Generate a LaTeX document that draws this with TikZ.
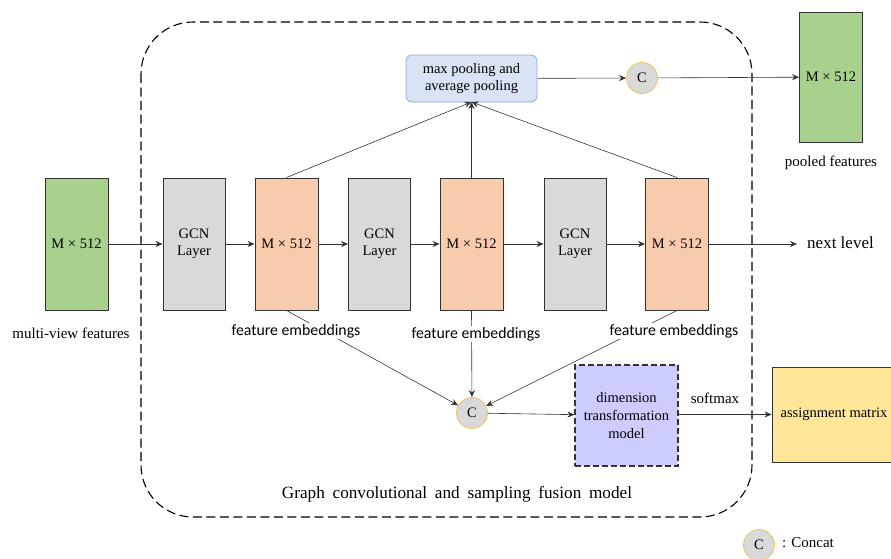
\documentclass[tikz,border=0pt]{standalone}
\usepackage{fontspec}
\setmainfont{Liberation Serif}
\newfontfamily\labelfont{Carlito}
\usetikzlibrary{arrows.meta,positioning}
\definecolor{featgreen}{HTML}{A9D18E}
\definecolor{emborange}{HTML}{F8CBAD}
\definecolor{gcngray}{HTML}{D9D9D9}
\definecolor{poolfill}{HTML}{DAE3F3}
\definecolor{pooldraw}{HTML}{8FAADC}
\definecolor{catring}{HTML}{F2C45A}
\definecolor{dimfill}{HTML}{CCCCFF}
\definecolor{assignfill}{HTML}{FFE699}
\definecolor{edgegray}{HTML}{333333}
\newcommand{\widespaces}{\spaceskip=0.45em plus 0.1em\relax}
\tikzset{
  blockbox/.style={draw=edgegray, line width=0.9pt, minimum width=63pt, minimum height=132pt, inner sep=0pt, align=center, font=\fontsize{14.5}{16.5}\selectfont},
  featbox/.style={blockbox, fill=featgreen},
  embbox/.style={blockbox, fill=emborange},
  gcnbox/.style={blockbox, fill=gcngray, minimum width=62pt},
  catnode/.style={circle, draw=catring, fill=gcngray, line width=0.8pt, minimum size=31pt, inner sep=0pt, font=\fontsize{14.5}{16}\selectfont},
  conn/.style={draw=black!80, line width=0.6pt, -{Stealth[length=7pt,width=6pt]}},
  caption/.style={font=\fontsize{15}{17}\selectfont},
  embcaption/.style={font=\labelfont\fontsize{15.8}{17}\selectfont, fill=white, inner sep=1.5pt},
}
\begin{document}
\begin{tikzpicture}[x=1pt,y=-1pt]
\useasboundingbox (0,0) rectangle (891,558);

% fusion model container
\draw[black, line width=1.1pt, dash pattern=on 9pt off 4.5pt, rounded corners=52pt] (141,22) rectangle (752,517);
\node[font=\fontsize{17.2}{19}\selectfont] (fusionlabel) at (457,494) {\widespaces Graph convolutional and sampling fusion model};

% input features
\node[featbox] (inp) at (76.5,244) {M × 512};
\node[caption] (inplabel) at (71,333) {multi-view features};

% GCN / embedding chain
\node[gcnbox] (g1) at (194,244) {GCN\\Layer};
\node[embbox] (e1) at (286.5,244) {M × 512};
\node[gcnbox] (g2) at (379.5,244) {GCN\\Layer};
\node[embbox] (e2) at (471.5,244) {M × 512};
\node[gcnbox] (g3) at (575,244) {GCN\\Layer};
\node[embbox] (e3) at (677,244) {M × 512};
\coordinate (nextend) at (797,244);
\node[anchor=west, font=\fontsize{17}{19}\selectfont, inner sep=0pt] (nextlabel) at (807,243) {next level};

\draw[conn] (inp) -- (g1);
\draw[conn] (g1) -- (e1);
\draw[conn] (e1) -- (g2);
\draw[conn] (g2) -- (e2);
\draw[conn] (e2) -- (g3);
\draw[conn] (g3) -- (e3);
\draw[conn] (e3) -- (nextend);

% pooling branch
\node[draw=pooldraw, fill=poolfill, line width=0.8pt, rounded corners=6pt, minimum width=131pt, minimum height=47pt, align=center, inner sep=0pt, font=\fontsize{14.5}{16.5}\selectfont] (pool) at (471.5,78.5) {max pooling and\\average pooling};
\node[catnode] (cattop) at (642,78) {C};
\node[featbox, minimum height=130pt] (pooled) at (831,77) {M × 512};
\node[caption] (pooledlabel) at (831,163) {pooled features};

\coordinate (poolin) at (471.5,102);
\draw[conn] (e1.north) -- (poolin);
\draw[conn] (e2.north) -- (poolin);
\draw[conn] (e3.north) -- (poolin);
\draw[conn] (pool) -- (cattop);
\draw[conn] (cattop) -- (pooled);

% sampling branch
\node[catnode] (catbot) at (472,413) {C};
\draw[conn] (e1.south) -- (catbot);
\draw[conn] (e2.south) -- (catbot);
\draw[conn] (e3.south) -- (catbot);
\node[embcaption] (emb1) at (296,331) {feature embeddings};
\node[embcaption] (emb2) at (476,334) {feature embeddings};
\node[embcaption] (emb3) at (674,331) {feature embeddings};

\node[draw=edgegray, fill=dimfill, line width=1.1pt, dash pattern=on 6pt off 3pt, minimum width=103pt, minimum height=101pt, align=center, inner sep=0pt, font=\fontsize{14.5}{18}\selectfont] (dim) at (626.5,415.5) {dimension\\transformation\\model};
\node[draw=edgegray, fill=assignfill, line width=0.9pt, minimum width=124pt, minimum height=95pt, inner sep=0pt, font=\fontsize{14.5}{16}\selectfont] (assign) at (834,414.5) {assignment matrix};
\draw[conn] (catbot) -- (dim);
\draw[conn] (dim.east |- assign.west) -- (assign.west);
\node[caption] (softlabel) at (715,398) {softmax};

% legend
\node[catnode] (legendcat) at (759,545) {C};
\node[anchor=west, caption, inner sep=0pt] (legendtext) at (782,543) {: Concat};
\end{tikzpicture}
\end{document}
